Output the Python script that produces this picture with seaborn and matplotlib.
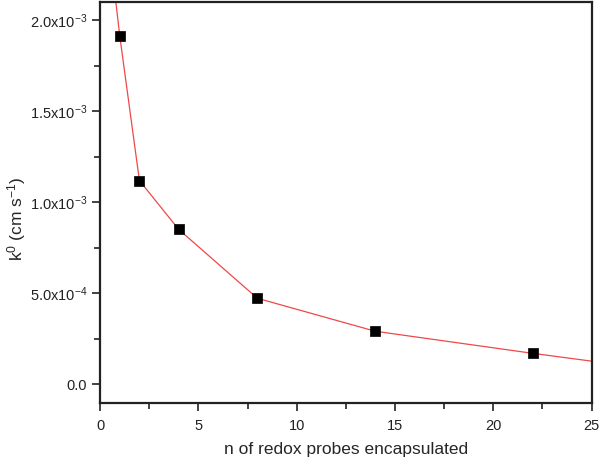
import seaborn as sns
import matplotlib.pyplot as plt
from matplotlib.ticker import FuncFormatter, MultipleLocator
import pandas as pd

# Measured rate constants vs number of encapsulated probes
n_probes = [1, 2, 4, 8, 14, 22]
k0_values = [1.913e-3, 1.119e-3, 0.851e-3, 0.473e-3, 0.292e-3, 0.171e-3]

# Red trace through the points (extended to both ends)
line_x = [0.8, 1, 2, 4, 8, 14, 22, 25]
line_y = [2.10e-3, 1.913e-3, 1.119e-3, 0.851e-3, 0.473e-3, 0.292e-3, 0.171e-3, 0.128e-3]

pts = pd.DataFrame({'n': n_probes, 'k0': k0_values})
trace = pd.DataFrame({'n': line_x, 'k0': line_y})

sns.set_style("ticks")
plt.rcParams['font.family'] = ['Liberation Sans', 'DejaVu Sans']
plt.rcParams['mathtext.fontset'] = 'custom'
plt.rcParams['mathtext.rm'] = 'Liberation Sans'
plt.rcParams['mathtext.it'] = 'Liberation Sans'
plt.rcParams['mathtext.default'] = 'regular'

fig = plt.figure(figsize=(6.03, 4.61), dpi=100)
ax = fig.add_axes([0.166, 0.1265, 0.815, 0.8695])

sns.lineplot(data=trace, x='n', y='k0', color='#f04848', linewidth=0.9, ax=ax, zorder=2)
sns.scatterplot(data=pts, x='n', y='k0', marker='s', s=50, color='black',
                edgecolor='black', linewidth=0.5, ax=ax, zorder=3)

ax.set_xlim(0, 25)
ax.set_ylim(-1e-4, 2.1e-3)
ax.xaxis.set_major_locator(MultipleLocator(5))
ax.xaxis.set_minor_locator(MultipleLocator(2.5))
ax.yaxis.set_major_locator(MultipleLocator(5e-4))
ax.yaxis.set_minor_locator(MultipleLocator(2.5e-4))


def sci_fmt(v, pos):
    if abs(v) < 1e-12:
        return '0.0'
    exp = int(f'{v:e}'.split('e')[1])
    mant = v / 10 ** exp
    return f'{mant:.1f}x10$^{{{exp}}}$'


ax.yaxis.set_major_formatter(FuncFormatter(sci_fmt))

for side in ['left', 'bottom', 'top', 'right']:
    ax.spines[side].set_visible(True)
    ax.spines[side].set_linewidth(1.6)
    ax.spines[side].set_color('#222222')
    ax.spines[side].set_zorder(5)

ax.tick_params(which='major', direction='out', length=6, width=1.2, labelsize=10.5, colors='#222222')
ax.tick_params(which='minor', direction='out', length=4, width=1.2, colors='#222222')
ax.tick_params(axis='x', pad=6)

ax.set_xlabel('n of redox probes encapsulated', fontsize=12.5, labelpad=6)
ax.set_ylabel('k$^0$ (cm s$^{-1}$)', fontsize=12.5)
ax.yaxis.set_label_coords(-0.147, 0.46)

plt.savefig('out.png', dpi=100)
